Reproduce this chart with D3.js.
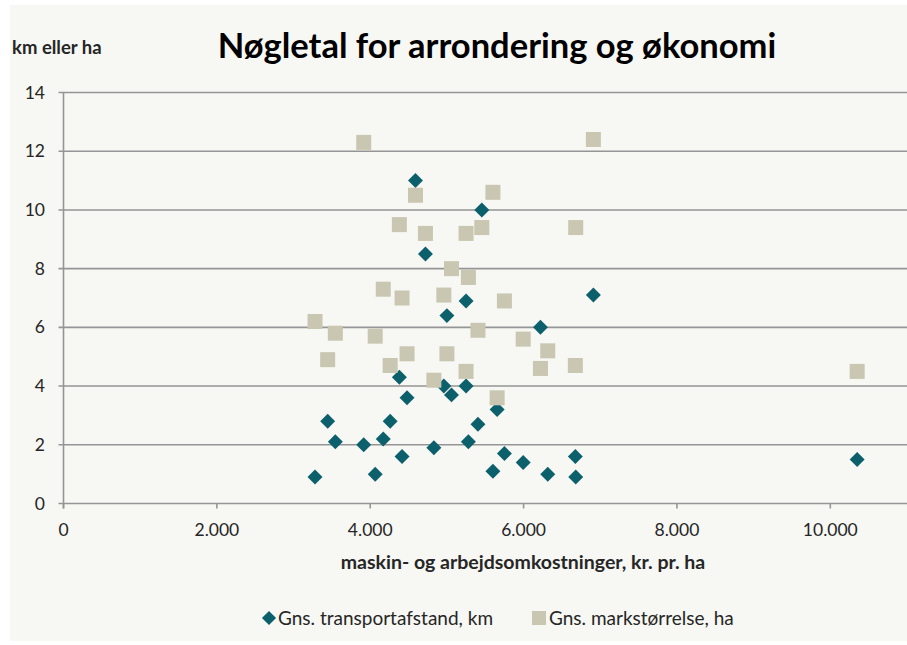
<!DOCTYPE html>
<html>
<head>
<meta charset="utf-8">
<script src="https://cdn.jsdelivr.net/npm/d3@7"></script>
<style>
  body { margin: 0; background: #ffffff; }
  text { font-family: Lato, "Open Sans", sans-serif; fill: #262626; }
</style>
</head>
<body>
<script>
const width = 907;
const height = 645;

// omkostninger, kr. pr. ha (shared x for both series)
const cost = [3280, 3445, 3545, 3915, 4065, 4170, 4260, 4380, 4415, 4480, 4590, 4720, 4830,
  4960, 5000, 5060, 5250, 5250, 5280, 5405, 5455, 5600, 5655, 5750, 5995, 6220, 6315,
  6675, 6680, 6910, 10350];
const transport = [0.9, 2.8, 2.1, 2.0, 1.0, 2.2, 2.8, 4.3, 1.6, 3.6, 11.0, 8.5, 1.9,
  4.0, 6.4, 3.7, 4.0, 6.9, 2.1, 2.7, 10.0, 1.1, 3.2, 1.7, 1.4, 6.0, 1.0,
  1.6, 0.9, 7.1, 1.5];
const markSize = [6.2, 4.9, 5.8, 12.3, 5.7, 7.3, 4.7, 9.5, 7.0, 5.1, 10.5, 9.2, 4.2,
  7.1, 5.1, 8.0, 4.5, 9.2, 7.7, 5.9, 9.4, 10.6, 3.6, 6.9, 5.6, 4.6, 5.2,
  4.7, 9.4, 12.4, 4.5];

const xTicks = [0, 2000, 4000, 6000, 8000, 10000];
const yTicks = [0, 2, 4, 6, 8, 10, 12, 14];
const seriesNames = ["Gns. transportafstand, km", "Gns. markstørrelse, ha"];

const teal = "#0c606c";
const sand = "#c9c7b1";
const grid = "#959595";

const fmt = d3.formatLocale({ decimal: ",", thousands: ".", grouping: [3], currency: ["", " kr."] }).format(",");

const svg = d3.select("body")
  .append("svg")
  .attr("width", width)
  .attr("height", height);

svg.append("rect")
  .attr("x", 10).attr("y", 5)
  .attr("width", width - 10).attr("height", 636)
  .attr("fill", "#f7f7f3");

const x = d3.scaleLinear().domain([0, 11000]).range([63.5, 907]);
const y = d3.scaleLinear().domain([0, 14]).range([503.5, 92.5]);

// gridlines
svg.append("g")
  .selectAll("line")
  .data(yTicks)
  .join("line")
  .attr("x1", x(0) - 5)
  .attr("x2", x(11000))
  .attr("y1", d => y(d))
  .attr("y2", d => y(d))
  .attr("stroke", grid)
  .attr("stroke-width", 1.6);

// y axis line
svg.append("line")
  .attr("x1", x(0)).attr("x2", x(0))
  .attr("y1", y(14)).attr("y2", y(0) + 5)
  .attr("stroke", grid)
  .attr("stroke-width", 1.6);

// x ticks
svg.append("g")
  .selectAll("line")
  .data(xTicks)
  .join("line")
  .attr("x1", d => x(d)).attr("x2", d => x(d))
  .attr("y1", y(0)).attr("y2", y(0) + 5)
  .attr("stroke", grid)
  .attr("stroke-width", 1.6);

svg.append("g")
  .selectAll("text")
  .data(yTicks)
  .join("text")
  .attr("x", 45)
  .attr("y", d => y(d))
  .attr("dy", "0.35em")
  .attr("text-anchor", "end")
  .attr("font-size", 17.5)
  .text(d => d);

svg.append("g")
  .selectAll("text")
  .data(xTicks)
  .join("text")
  .attr("x", d => x(d))
  .attr("y", 530)
  .attr("dy", "0.35em")
  .attr("text-anchor", "middle")
  .attr("font-size", 17.5)
  .text(d => fmt(d));

// titles
svg.append("text")
  .attr("x", 497).attr("y", 46)
  .attr("dy", "0.35em")
  .attr("text-anchor", "middle")
  .attr("font-size", 34.5)
  .attr("font-weight", "bold")
  .style("fill", "#000")
  .text("Nøgletal for arrondering og økonomi");

svg.append("text")
  .attr("x", 12).attr("y", 48)
  .attr("dy", "0.35em")
  .attr("font-size", 18.5)
  .attr("font-weight", "bold")
  .text("km eller ha");

svg.append("text")
  .attr("x", 523).attr("y", 562)
  .attr("dy", "0.35em")
  .attr("text-anchor", "middle")
  .attr("font-size", 19.5)
  .attr("font-weight", "bold")
  .text("maskin- og arbejdsomkostninger, kr. pr. ha");

// points
const diamond = d3.symbol(d3.symbolSquare, 112)();
const square = d3.symbol(d3.symbolSquare, 225)();

svg.append("g")
  .selectAll("path")
  .data(d3.range(cost.length))
  .join("path")
  .attr("d", diamond)
  .attr("transform", i => `translate(${x(cost[i])},${y(transport[i])}) rotate(45)`)
  .attr("fill", teal);

svg.append("g")
  .selectAll("path")
  .data(d3.range(cost.length))
  .join("path")
  .attr("d", square)
  .attr("transform", i => `translate(${x(cost[i])},${y(markSize[i])})`)
  .attr("fill", sand);

// legend
const legend = svg.append("g").attr("transform", "translate(0,618)");
legend.append("path")
  .attr("d", d3.symbol(d3.symbolSquare, 100)())
  .attr("transform", "translate(269,0) rotate(45)")
  .attr("fill", teal);
legend.append("text")
  .attr("x", 278).attr("dy", "0.35em")
  .attr("font-size", 19)
  .text(seriesNames[0]);
legend.append("path")
  .attr("d", d3.symbol(d3.symbolSquare, 196)())
  .attr("transform", "translate(539,0)")
  .attr("fill", sand);
legend.append("text")
  .attr("x", 549).attr("dy", "0.35em")
  .attr("font-size", 19)
  .text(seriesNames[1]);
</script>
</body>
</html>
